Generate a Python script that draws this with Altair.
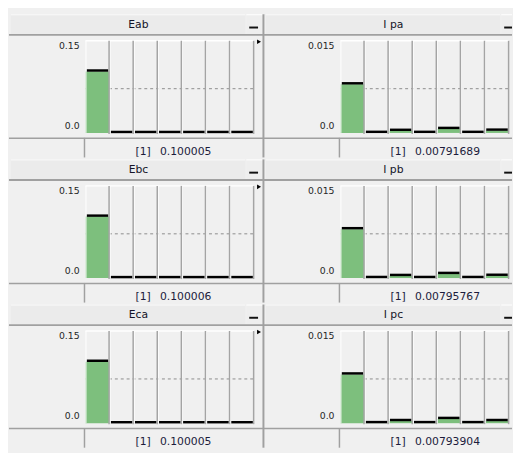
import altair as alt
import pandas as pd

# ---------------- data ----------------
harmonics = [1, 2, 3, 4, 5, 6, 7]
panel_titles = ["Eab", "I pa", "Ebc", "I pb", "Eca", "I pc"]
panel_max = [0.15, 0.015, 0.15, 0.015, 0.15, 0.015]
tick_labels_E = ["0.15", "0.0"]
tick_labels_I = ["0.015", "0.0"]
values_Eab = [0.100005, 0.0, 0.0, 0.0, 0.0, 0.0, 0.0]
values_Ipa = [0.00791689, 0.00002, 0.00035, 0.00002, 0.00066, 0.00002, 0.00038]
values_Ebc = [0.100006, 0.0, 0.0, 0.0, 0.0, 0.0, 0.0]
values_Ipb = [0.00795767, 0.00002, 0.00035, 0.00002, 0.00068, 0.00002, 0.00038]
values_Eca = [0.100005, 0.0, 0.0, 0.0, 0.0, 0.0, 0.0]
values_Ipc = [0.00793904, 0.00002, 0.00036, 0.00002, 0.00070, 0.00002, 0.00036]
limit_values = [0.072, 0.0072, 0.072, 0.0072, 0.072, 0.0072]
footer_index = "[1]"
footer_values = ["0.100005", "0.00791689", "0.100006", "0.00795767", "0.100005", "0.00793904"]

series = [values_Eab, values_Ipa, values_Ebc, values_Ipb, values_Eca, values_Ipc]
ticks = [tick_labels_E, tick_labels_I] * 3

# ---------------- geometry (panel-local pixels) ----------------
W_LEFT, W_RIGHT, H = 260, 253, 148
X0, X1 = 78, 250
YT, YB = 29, 123          # pixel rows of the scale top (max) and baseline (0)
BG = "#f0f0f0"
GRAY = "#a0a0a0"
FONT = "DejaVu Sans"

one = pd.DataFrame({"a": [0]})


def hrule(x, x2, y, color, width=1.0):
    return alt.Chart(one).mark_rule(color=color, strokeWidth=width).encode(
        x=alt.value(x), x2=alt.value(x2), y=alt.value(y))


def vrule(x, y, y2, color, width=1.0):
    return alt.Chart(one).mark_rule(color=color, strokeWidth=width).encode(
        x=alt.value(x), y=alt.value(y), y2=alt.value(y2))


def box(x, x2, y, y2, fill):
    return alt.Chart(one).mark_rect(fill=fill).encode(
        x=alt.value(x), x2=alt.value(x2), y=alt.value(y), y2=alt.value(y2))


def panel(i, left):
    W = W_LEFT if left else W_RIGHT
    vmax = panel_max[i]
    df = pd.DataFrame({"h": harmonics, "v": series[i]})
    xs = alt.Scale(range=[X0, X1], paddingInner=0, paddingOuter=0)
    # y scale spans the full panel height; domain chosen so that 0 -> YB and vmax -> YT
    per_px = vmax / (YB - YT)
    ys = alt.Scale(domain=[-(H - YB) * per_px, vmax + YT * per_px], nice=False, zero=False)

    layers = []
    # header
    layers.append(box(2, 241, 2, 22, "#ebebeb"))
    layers.append(hrule(2, 241, 2.5, "#fafafa", 1))
    layers.append(box(242, min(259, W), 2, 22, "#eeeeee"))
    layers.append(hrule(242, min(259, W), 2.5, "#ffffff", 1))
    layers.append(box(245, min(254, W), 14.5, 16.5, "#111111"))
    layers.append(hrule(0, W, 23, GRAY, 2))
    layers.append(alt.Chart(one).mark_text(
        font=FONT, fontSize=11, color="#141428", align="center", baseline="middle"
    ).encode(x=alt.value(132), y=alt.value(12.5), text=alt.value(panel_titles[i])))

    # limit (dashed) line
    lim = pd.DataFrame({"lim": [limit_values[i]]})
    layers.append(alt.Chart(lim).mark_rule(color="#8c8c8c", strokeDash=[3, 3], strokeWidth=1).encode(
        y=alt.Y("lim:Q", scale=ys, axis=None), x=alt.value(X0), x2=alt.value(X1)))

    # bars
    layers.append(alt.Chart(df).mark_bar(color="#7dbf7d").encode(
        x=alt.X("h:O", scale=xs, axis=None),
        y=alt.Y("v:Q", scale=ys, axis=None),
        y2=alt.datum(0)))
    # black caps
    layers.append(alt.Chart(df).mark_tick(color="#000000", opacity=1, thickness=2.5, size=22, yOffset=-1).encode(
        x=alt.X("h:O", scale=xs, axis=None),
        y=alt.Y("v:Q", scale=ys, axis=None)))
    # column frame
    layers.append(hrule(X0, X1, YT, "#ffffff", 1.5))
    layers.append(alt.Chart(df).mark_rule(color="#ffffff", strokeWidth=1, xOffset=0.5).encode(
        x=alt.X("h:O", scale=xs, axis=None, bandPosition=0),
        y=alt.value(YT), y2=alt.value(YB)))
    layers.append(alt.Chart(df).mark_rule(color="#a4a4a4", strokeWidth=1.5, xOffset=-0.5).encode(
        x=alt.X("h:O", scale=xs, axis=None, bandPosition=1),
        y=alt.value(YT), y2=alt.value(YB + 1)))

    # y labels
    tdf = pd.DataFrame({"t": [vmax, 0.0], "label": ticks[i]})
    layers.append(alt.Chart(tdf.iloc[[0]]).mark_text(
        font=FONT, fontSize=9.5, color="#282828", align="right", baseline="top"
    ).encode(x=alt.value(72), y=alt.Y("t:Q", scale=ys, axis=None), text="label:N"))
    layers.append(alt.Chart(tdf.iloc[[1]]).mark_text(
        font=FONT, fontSize=9.5, color="#282828", align="right", baseline="bottom", dy=-2
    ).encode(x=alt.value(72), y=alt.Y("t:Q", scale=ys, axis=None), text="label:N"))

    # footer
    layers.append(hrule(0, W, 128.5, GRAY, 1.5))
    layers.append(vrule(77, 128, H, GRAY, 1.5))
    layers.append(alt.Chart(one).mark_text(
        font=FONT, fontSize=11, color="#1c1c3c", align="left", baseline="middle"
    ).encode(x=alt.value(129), y=alt.value(142), text=alt.value(footer_index)))
    layers.append(alt.Chart(one).mark_text(
        font=FONT, fontSize=11, color="#1c1c3c", align="left", baseline="middle"
    ).encode(x=alt.value(154), y=alt.value(142), text=alt.value(footer_values[i])))

    if left:
        layers.append(alt.Chart(one).mark_point(
            shape="triangle-right", filled=True, color="#000000", size=22, opacity=1
        ).encode(x=alt.value(255), y=alt.value(30)))
        layers.append(vrule(259.5, 2, H, GRAY, 2))

    return alt.layer(*layers).properties(width=W, height=H)


panels = [panel(i, i % 2 == 0) for i in range(6)]

chart = alt.concat(*panels, columns=2, spacing=0, bounds="flush").properties(
    padding=0, background=BG
).configure_view(stroke=None)

chart.save("out.html", embed_options={"renderer": "svg", "actions": False})
